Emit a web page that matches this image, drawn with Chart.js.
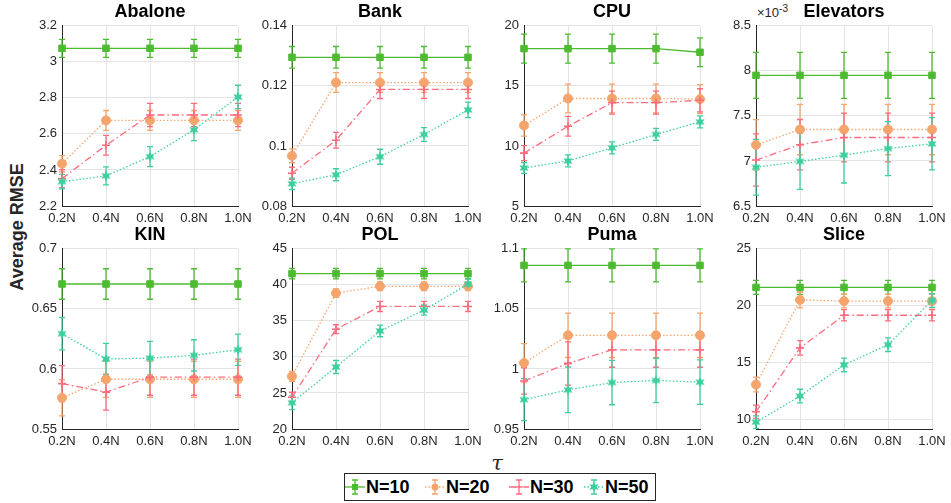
<!DOCTYPE html>
<html>
<head>
<meta charset="utf-8">
<script src="https://cdn.jsdelivr.net/npm/chart.js@4.4.1/dist/chart.umd.min.js"></script>
<style>
  body { margin: 0; width: 951px; height: 503px; background: #fff; position: relative; overflow: hidden;
         font-family: "Liberation Sans", Arial, sans-serif; color: #262626; }
  canvas { position: absolute; }
  .ttl { position: absolute; width: 176px; height: 22px; line-height: 22px; text-align: center;
         font-weight: bold; font-size: 18px; color: #000; }
  .ylab { position: absolute; left: 17px; top: 227px; transform: translate(-50%, -50%) rotate(-90deg);
          font-weight: bold; font-size: 18px; color: #262626; white-space: nowrap; }
  .tau { position: absolute; left: 497px; top: 463px; transform: translate(-50%, -50%);
         font-family: "DejaVu Serif", serif; font-style: italic; font-size: 21px; color: #262626; }
  .exp { position: absolute; left: 757px; top: 3px; font-size: 13px; color: #262626; }
  .exp sup { font-size: 10px; }
  #legend { position: absolute; left: 344px; top: 473px; width: 310px; height: 26px; border: 1px solid #262626; background: #fff; }
  .lt { position: absolute; top: 0; line-height: 26px; font-weight: bold; font-size: 18px; color: #000; }
</style>
</head>
<body>
<div class="ylab">Average RMSE</div>
<div class="tau">τ</div>
<div class="exp">×10<sup>-3</sup></div>
<div id="legend"></div>

<script>
// tau levels and sample sizes
const taus = ["0.2N", "0.4N", "0.6N", "0.8N", "1.0N"];
const groups = ["N=10", "N=20", "N=30", "N=50"];

// mean RMSE per group (rows: N=10, N=20, N=30, N=50) and error bar half-widths
const abaloneMean = [[3.075, 3.075, 3.075, 3.075, 3.075], [2.435, 2.675, 2.675, 2.675, 2.675], [2.352, 2.537, 2.705, 2.705, 2.705], [2.335, 2.367, 2.474, 2.623, 2.805]];
const abaloneErr  = [[0.05, 0.05, 0.05, 0.05, 0.05], [0.045, 0.055, 0.055, 0.055, 0.055], [0.05, 0.055, 0.065, 0.065, 0.065], [0.04, 0.05, 0.055, 0.06, 0.065]];
const abaloneTicks = [2.2, 2.4, 2.6, 2.8, 3, 3.2];

const bankMean = [[0.1295, 0.1295, 0.1295, 0.1295, 0.1295], [0.0967, 0.1211, 0.1211, 0.1211, 0.1211], [0.0909, 0.1019, 0.1188, 0.1188, 0.1188], [0.0874, 0.0904, 0.0964, 0.1038, 0.112]];
const bankErr  = [[0.0036, 0.0036, 0.0036, 0.0036, 0.0036], [0.0023, 0.0033, 0.0033, 0.0033, 0.0033], [0.002, 0.0026, 0.003, 0.003, 0.003], [0.0019, 0.002, 0.0025, 0.0023, 0.0026]];
const bankTicks = [0.08, 0.1, 0.12, 0.14];

const cpuMean = [[18.1, 18.1, 18.1, 18.1, 17.8], [11.7, 13.95, 13.95, 13.95, 13.9], [9.4, 11.64, 13.6, 13.6, 13.8], [8.17, 8.75, 9.84, 10.96, 12.0]];
const cpuErr  = [[1.2, 1.2, 1.2, 1.2, 1.2], [0.89, 1.2, 1.2, 1.2, 1.2], [0.63, 0.82, 0.96, 0.96, 0.96], [0.45, 0.5, 0.5, 0.5, 0.5]];
const cpuTicks = [5, 10, 15, 20];

const elevatorsMean = [[0.00795, 0.00795, 0.00795, 0.00795, 0.00795], [0.007178, 0.007349, 0.007349, 0.007349, 0.007349], [0.00701, 0.00718, 0.00726, 0.00726, 0.00726], [0.00693, 0.006995, 0.007065, 0.007137, 0.00719]];
const elevatorsErr  = [[0.000255, 0.000255, 0.000255, 0.000255, 0.000255], [0.00028, 0.00028, 0.00028, 0.00028, 0.00028], [0.00029, 0.00028, 0.00027, 0.00027, 0.00027], [0.00031, 0.00031, 0.00031, 0.0003, 0.00029]];
const elevatorsTicks = [0.0065, 0.007, 0.0075, 0.008, 0.0085];

const kinMean = [[0.6707, 0.6707, 0.6707, 0.6707, 0.6707], [0.576, 0.5914, 0.5914, 0.5914, 0.5914], [0.5878, 0.5807, 0.5931, 0.5931, 0.5931], [0.6293, 0.6083, 0.609, 0.6113, 0.616]];
const kinErr  = [[0.0127, 0.0127, 0.0127, 0.0127, 0.0127], [0.015, 0.015, 0.015, 0.015, 0.015], [0.015, 0.015, 0.015, 0.015, 0.015], [0.0135, 0.013, 0.014, 0.013, 0.013]];
const kinTicks = [0.55, 0.6, 0.65, 0.7];

const polMean = [[41.55, 41.55, 41.55, 41.55, 41.55], [27.3, 38.85, 39.8, 39.8, 39.8], [24.4, 33.84, 37.0, 37.0, 37.0], [23.64, 28.6, 33.6, 36.5, 40.1]];
const polErr  = [[0.73, 0.73, 0.73, 0.73, 0.73], [0.7, 0.6, 0.6, 0.6, 0.6], [0.7, 0.62, 0.7, 0.7, 0.7], [0.95, 0.9, 0.8, 0.7, 0.7]];
const polTicks = [20, 25, 30, 35, 40, 45];

const pumaMean = [[1.0862, 1.0862, 1.0862, 1.0862, 1.0862], [1.005, 1.028, 1.028, 1.028, 1.028], [0.990, 1.0046, 1.0159, 1.0159, 1.0159], [0.9744, 0.9826, 0.9887, 0.9904, 0.989]];
const pumaErr  = [[0.0137, 0.0137, 0.0137, 0.0137, 0.0137], [0.016, 0.0185, 0.0185, 0.0185, 0.0185], [0.011, 0.018, 0.0145, 0.0145, 0.0145], [0.0175, 0.019, 0.0185, 0.0185, 0.0185]];
const pumaTicks = [0.95, 1, 1.05, 1.1];

const sliceMean = [[21.6, 21.6, 21.6, 21.6, 21.6], [13.05, 20.5, 20.4, 20.4, 20.4], [10.66, 16.28, 19.15, 19.15, 19.15], [9.74, 12.04, 14.78, 16.56, 20.45]];
const sliceErr  = [[0.62, 0.62, 0.62, 0.62, 0.62], [0.65, 0.7, 0.6, 0.6, 0.6], [0.58, 0.63, 0.5, 0.5, 0.5], [0.55, 0.6, 0.6, 0.6, 0.6]];
const sliceTicks = [10, 15, 20, 25];

const panels = [
  { name: "Abalone",   mean: abaloneMean,   err: abaloneErr,   ticks: abaloneTicks,   min: 2.2,    max: 3.2,    left: 62,  top: 23 },
  { name: "Bank",      mean: bankMean,      err: bankErr,      ticks: bankTicks,      min: 0.08,   max: 0.14,   left: 292, top: 23 },
  { name: "CPU",       mean: cpuMean,       err: cpuErr,       ticks: cpuTicks,       min: 5,      max: 20,     left: 524, top: 23 },
  { name: "Elevators", mean: elevatorsMean, err: elevatorsErr, ticks: elevatorsTicks, min: 0.0065, max: 0.0085, left: 756, top: 23, scale: 1000 },
  { name: "KIN",       mean: kinMean,       err: kinErr,       ticks: kinTicks,       min: 0.55,   max: 0.7,    left: 62,  top: 246 },
  { name: "POL",       mean: polMean,       err: polErr,       ticks: polTicks,       min: 20,     max: 45,     left: 292, top: 246 },
  { name: "Puma",      mean: pumaMean,      err: pumaErr,      ticks: pumaTicks,      min: 0.95,   max: 1.1,    left: 524, top: 246 },
  { name: "Slice",     mean: sliceMean,     err: sliceErr,     ticks: sliceTicks,     min: 9.14,   max: 25,     left: 756, top: 246 }
];

const colors = ["#4dbb31", "#f5a46c", "#fd6b7c", "#3fcf9f"];
const dashes = [[], [1.5, 2], [7, 3, 1.5, 3], [1.5, 2]];
const PW = 176, PH = 183, YW = 55, XH = 26, PT = 10, PR = 24;

function hexagram(color) {
  const c = document.createElement("canvas");
  c.width = 12; c.height = 12;
  const g = c.getContext("2d");
  g.fillStyle = color;
  g.beginPath();
  for (let k = 0; k < 12; k++) {
    const r = k % 2 ? 2.7 : 5.3;
    const a = -Math.PI / 2 + k * Math.PI / 6;
    g.lineTo(6 + r * Math.cos(a), 6 + r * Math.sin(a));
  }
  g.closePath();
  g.fill();
  return c;
}
const star = hexagram(colors[3]);
const pointStyles = ["rect", "circle", "cross", star];
const pointRadii = [4.6, 4.5, 4, 6];

// vertical error bars with caps, drawn under the markers
const errorBars = {
  id: "errorBars",
  beforeDatasetsDraw(chart) {
    const ctx = chart.ctx, y = chart.scales.y;
    chart.data.datasets.forEach((ds, i) => {
      const meta = chart.getDatasetMeta(i);
      ctx.save();
      ctx.strokeStyle = ds.borderColor;
      ctx.lineWidth = 1.3;
      ctx.setLineDash([]);
      meta.data.forEach((pt, j) => {
        const y1 = y.getPixelForValue(ds.data[j] - ds.errors[j]);
        const y2 = y.getPixelForValue(ds.data[j] + ds.errors[j]);
        ctx.beginPath();
        ctx.moveTo(pt.x, y1); ctx.lineTo(pt.x, y2);
        ctx.moveTo(pt.x - 3, y1); ctx.lineTo(pt.x + 3, y1);
        ctx.moveTo(pt.x - 3, y2); ctx.lineTo(pt.x + 3, y2);
        ctx.stroke();
      });
      ctx.restore();
    });
  }
};

panels.forEach(p => {
  const cv = document.createElement("canvas");
  cv.width = YW + PW + PR;
  cv.height = PT + PH + XH;
  cv.style.left = (p.left - YW) + "px";
  cv.style.top = (p.top - PT) + "px";
  document.body.appendChild(cv);

  const t = document.createElement("div");
  t.className = "ttl";
  t.textContent = p.name;
  t.style.left = p.left + "px";
  t.style.top = (p.top - 23) + "px";
  document.body.appendChild(t);

  new Chart(cv, {
    type: "line",
    data: {
      labels: taus,
      datasets: groups.map((g, i) => ({
        label: g,
        data: p.mean[i],
        errors: p.err[i],
        borderColor: colors[i],
        backgroundColor: colors[i],
        borderWidth: 1.3,
        borderDash: dashes[i],
        pointStyle: pointStyles[i],
        pointRadius: pointRadii[i],
        pointBorderWidth: i === 2 ? 1.6 : 1,
        pointBackgroundColor: colors[i],
        pointBorderColor: colors[i],
        tension: 0,
        clip: false,
        order: 4 - i
      }))
    },
    options: {
      responsive: false,
      animation: false,
      events: [],
      layout: { padding: { top: PT, right: PR, left: 0, bottom: 0 } },
      plugins: { legend: { display: false }, tooltip: { enabled: false } },
      scales: {
        x: {
          type: "category",
          offset: false,
          grid: { color: "#e4e4e4", drawTicks: false, offset: false },
          border: { color: "#262626", width: 1 },
          ticks: { color: "#262626", font: { size: 13, family: "Liberation Sans" }, padding: 5, maxRotation: 0, autoSkip: false },
          afterFit(s) { s.height = XH; }
        },
        y: {
          min: p.min,
          max: p.max,
          grid: { color: "#e4e4e4", drawTicks: false },
          border: { color: "#262626", width: 1 },
          ticks: {
            color: "#262626", font: { size: 13, family: "Liberation Sans" }, padding: 5,
            callback: v => p.scale ? String(+(v * p.scale).toFixed(2)) : String(+v.toFixed(4))
          },
          afterBuildTicks(s) { s.ticks = p.ticks.map(v => ({ value: v })); },
          afterFit(s) { s.width = YW; }
        }
      }
    },
    plugins: [errorBars]
  });
});

// legend: line + error bar + marker icons
const legend = document.getElementById("legend");
const iconCenters = [10, 90, 174, 249];
groups.forEach((g, i) => {
  const ic = document.createElement("canvas");
  ic.width = 22; ic.height = 26;
  ic.style.left = (iconCenters[i] - 11) + "px";
  ic.style.top = "0px";
  legend.appendChild(ic);
  const c = ic.getContext("2d");
  c.strokeStyle = colors[i];
  c.fillStyle = colors[i];
  c.lineWidth = 1.3;
  c.setLineDash(dashes[i]);
  c.beginPath(); c.moveTo(1, 13); c.lineTo(21, 13); c.stroke();
  c.setLineDash([]);
  c.beginPath();
  c.moveTo(11, 6); c.lineTo(11, 20);
  c.moveTo(8, 6); c.lineTo(14, 6);
  c.moveTo(8, 20); c.lineTo(14, 20);
  c.stroke();
  if (i === 0) c.fillRect(8, 10, 6, 6);
  else if (i === 1) { c.beginPath(); c.arc(11, 13, 3.5, 0, Math.PI * 2); c.fill(); }
  else if (i === 2) { c.beginPath(); c.moveTo(7, 13); c.lineTo(15, 13); c.stroke(); }
  else c.drawImage(star, 5, 7);
  const lt = document.createElement("div");
  lt.className = "lt";
  lt.textContent = g;
  lt.style.left = (iconCenters[i] + 11) + "px";
  legend.appendChild(lt);
});
</script>
</body>
</html>
